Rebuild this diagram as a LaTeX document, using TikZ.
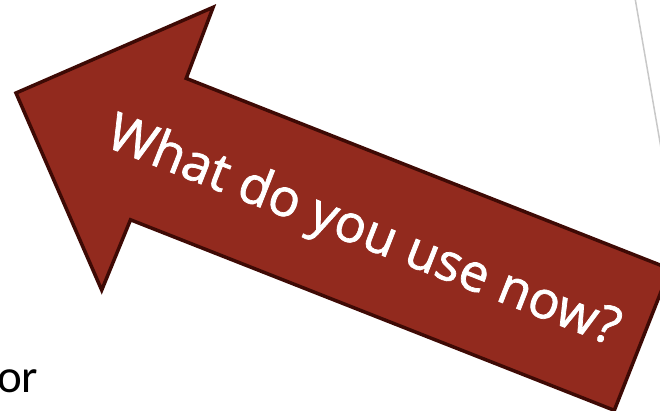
\documentclass[tikz,border=0pt]{standalone}
\usepackage{fontspec}
\setmainfont{Open Sans}
\newfontfamily\arrowfont[FakeBold=1.4]{Open Sans}
\newfontfamily\bodyfont{Carlito}
\definecolor{arrowfill}{RGB}{146,42,30}
\definecolor{arrowedge}{RGB}{62,10,5}
\definecolor{guide}{RGB}{200,200,200}
\tikzset{
  bigarrow/.style={fill=arrowfill, draw=arrowedge, line width=3.5pt, line join=miter},
  arrowtext/.style={text=white, font=\arrowfont\fontsize{52}{60}\selectfont, inner sep=0pt},
  slidetext/.style={text=black, font=\bodyfont\fontsize{47}{56}\selectfont, inner sep=0pt},
  guideline/.style={draw=guide, line width=1.5pt}
}
\begin{document}
\begin{tikzpicture}[x=1pt,y=-1pt]
\useasboundingbox (0,0) rectangle (660,411);
\clip (0,0) rectangle (660,411);
% grey guide line at top right
\coordinate (g1) at (635,-2);
\coordinate (g2) at (661,148);
\draw[guideline] (g1) -- (g2);
% slide text
\node[slidetext, anchor=base west] (or) at (-3,392) {or};
% big arrow, local frame: u along shaft, n perpendicular (downwards)
\begin{scope}[shift={(16,93)}, rotate=-21.5]
  \draw[bigarrow] (0,0) -- (152,-152) -- (153,-76) -- (673,-76)
    -- (673,76) -- (153,76) -- (152,152) -- cycle;
  \node[arrowtext, rotate=-21.5, anchor=base] (q) at (374,17) {What do you use now?};
\end{scope}
\end{tikzpicture}
\end{document}
